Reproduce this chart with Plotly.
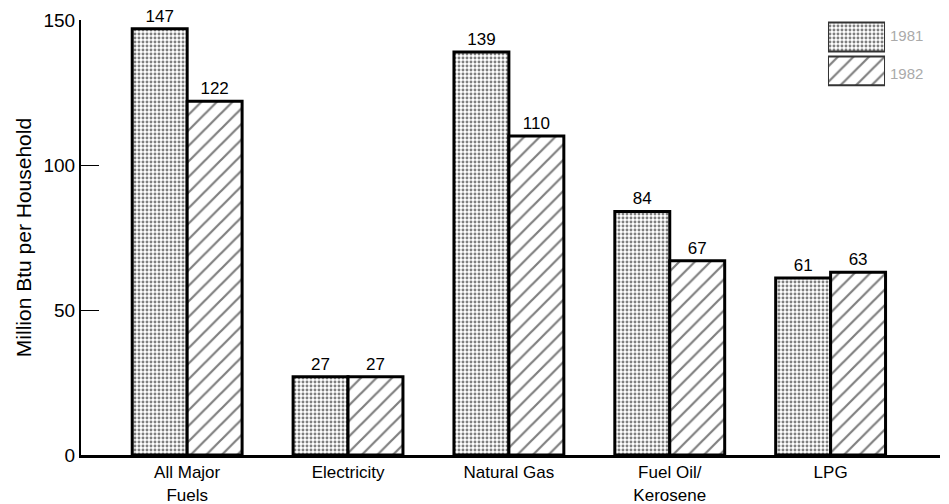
import plotly.graph_objects as go

categories = ["All Major<br>Fuels", "Electricity", "Natural Gas", "Fuel Oil/<br>Kerosene", "LPG"]
values_1981 = [147, 27, 139, 84, 61]
values_1982 = [122, 27, 110, 67, 63]
series_names = ["1981", "1982"]
y_ticks = [0, 50, 100, 150]

FONT = "Liberation Sans, Arial, sans-serif"
DOT = dict(shape=".", fgcolor="black", bgcolor="white", size=4, solidity=0.42)
HATCH = dict(shape="/", fgcolor="black", bgcolor="white", size=11, solidity=0.2)

# page body has an 8px default margin: margins below compensate for it
OFF = 8

fig = go.Figure()

fig.add_trace(go.Bar(
    x=categories, y=values_1981, name=series_names[0],
    text=[str(v) for v in values_1981], textposition="outside",
    textfont=dict(size=17, color="black", family=FONT),
    cliponaxis=False,
    marker=dict(color="white", line=dict(color="black", width=3), pattern=DOT),
    showlegend=False,
))
fig.add_trace(go.Bar(
    x=categories, y=values_1982, name=series_names[1],
    text=[str(v) for v in values_1982], textposition="outside",
    textfont=dict(size=17, color="black", family=FONT),
    cliponaxis=False,
    marker=dict(color="white", line=dict(color="black", width=3), pattern=HATCH),
    showlegend=False,
))

# legend swatches drawn as a small horizontal bar chart
fig.add_trace(go.Bar(
    x=[1, 1], y=series_names, orientation="h", width=0.85,
    xaxis="x2", yaxis="y2", showlegend=False, hoverinfo="skip",
    marker=dict(color="white", line=dict(color="#333", width=2),
                pattern=dict(shape=[DOT["shape"], HATCH["shape"]], fgcolor="black", bgcolor="white",
                             size=[DOT["size"], HATCH["size"]],
                             solidity=[DOT["solidity"], HATCH["solidity"]])),
))
for name, ypos in zip(series_names, [0.9655, 0.876]):
    fig.add_annotation(x=0.939, y=ypos, xref="paper", yref="paper", text=name,
                       showarrow=False, xanchor="left", yanchor="middle",
                       font=dict(size=15, color="#aaa", family=FONT))

fig.update_layout(
    width=949, height=504,
    margin=dict(l=81 - OFF, r=9 + OFF, t=20 - OFF, b=49 + OFF),
    paper_bgcolor="white", plot_bgcolor="white",
    barmode="group", bargap=0.317, bargroupgap=0,
    font=dict(family=FONT, size=17, color="black"),
    xaxis=dict(range=[-0.66, 4.68], showline=True, linecolor="black", linewidth=3,
               ticks="", showgrid=False, zeroline=False, automargin=False,
               tickfont=dict(size=17, family=FONT)),
    yaxis=dict(range=[0, 150], tickvals=y_ticks, showline=True, linecolor="black",
               linewidth=2, ticks="inside", ticklen=18, tickwidth=1, tickcolor="black",
               showgrid=False, zeroline=False, automargin=False,
               tickfont=dict(size=19, family=FONT),
               title=dict(text="Million Btu per Household", standoff=6,
                          font=dict(size=21, family=FONT))),
    xaxis2=dict(domain=[0.8696, 0.936], range=[0, 1], visible=False, anchor="y2"),
    yaxis2=dict(domain=[0.844, 1.0], range=[1.5, -0.5], visible=False, anchor="x2",
                categoryorder="array", categoryarray=series_names),
)

fig.write_html("out.html")
